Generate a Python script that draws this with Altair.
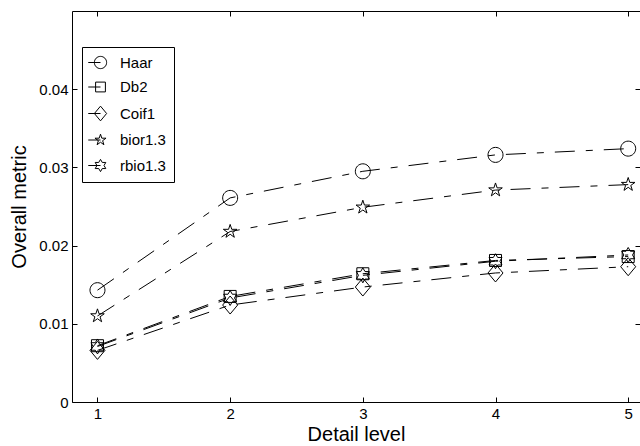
import math
import altair as alt
import pandas as pd

levels = [1, 2, 3, 4, 5]
series_names = ["Haar", "Db2", "Coif1", "bior1.3", "rbio1.3"]
haar = [0.0143, 0.0261, 0.0295, 0.0316, 0.0324]
db2 = [0.0072, 0.0135, 0.0164, 0.0181, 0.0186]
coif1 = [0.0066, 0.0124, 0.0147, 0.0165, 0.0173]
bior13 = [0.0110, 0.0218, 0.0249, 0.0271, 0.0278]
rbio13 = [0.0071, 0.0133, 0.0162, 0.0180, 0.0188]
y_ticks = [0, 0.01, 0.02, 0.03, 0.04]

rows = []
for name, vals in zip(series_names, [haar, db2, coif1, bior13, rbio13]):
    for lv, v in zip(levels, vals):
        rows.append({"series": name, "level": lv, "value": v})
df = pd.DataFrame(rows)


def star_path(n, R, r):
    pts = []
    for k in range(2 * n):
        ang = -math.pi / 2 + k * math.pi / n
        rad = R if k % 2 == 0 else r
        pts.append((rad * math.cos(ang), rad * math.sin(ang)))
    return "M" + "L".join(f"{x:.3f},{y:.3f}" for x, y in pts) + "Z"


circle_p = "M1,0A1,1 0 1,1 -1,0A1,1 0 1,1 1,0Z"
square_p = "M-0.8,-0.8L0.8,-0.8L0.8,0.8L-0.8,0.8Z"
diamond_p = "M0,-1.2L1,0L0,1.2L-1,0Z"
penta_p = star_path(5, 0.95, 0.95 * 0.382)
hexa_p = star_path(6, 1.0, 0.577)
marker_paths = [circle_p, square_p, diamond_p, penta_p, hexa_p]
legend_paths = ["M-2,0L0,0" + p for p in marker_paths]

FONT = "Liberation Sans"
xs = alt.Scale(domain=[0.808, 5.089], nice=False, zero=False)
ys = alt.Scale(domain=[0, 0.05], nice=False)

common_axis = dict(grid=False, domain=False, tickSize=5, offset=-5,
                   tickColor="black", tickWidth=1)

lines = alt.Chart(df).mark_line(
    color="black", strokeWidth=1, strokeDash=[20, 11, 7, 11]
).encode(
    x=alt.X("level:Q", scale=xs, axis=alt.Axis(
        orient="bottom", values=levels, format="d", title="Detail level",
        labelFont=FONT, labelFontSize=15, labelColor="black", labelPadding=4,
        titleFont=FONT, titleFontSize=20, titleFontWeight="normal",
        titleColor="black", titlePadding=3, **common_axis)),
    y=alt.Y("value:Q", scale=ys, axis=alt.Axis(
        orient="left", values=y_ticks, format=".2~f", title="Overall metric",
        labelFont=FONT, labelFontSize=15, labelColor="black", labelPadding=4,
        titleFont=FONT, titleFontSize=20, titleFontWeight="normal",
        titleColor="black", titlePadding=9, **common_axis)),
    detail="series:N",
)

markers = alt.Chart(df).mark_point(
    filled=False, color="black", strokeWidth=1, size=225, opacity=1
).encode(
    x=alt.X("level:Q", scale=xs, axis=alt.Axis(
        orient="top", values=levels, labels=False, title=None, **common_axis)),
    y=alt.Y("value:Q", scale=ys, axis=alt.Axis(
        orient="right", values=y_ticks, labels=False, title=None, **common_axis)),
    shape=alt.Shape("series:N", sort=series_names,
                    scale=alt.Scale(domain=series_names, range=marker_paths),
                    legend=None),
)

legend_layer = alt.Chart(df).transform_filter("false").mark_point(
    filled=False, color="black", strokeWidth=1, size=150, opacity=1
).encode(
    x=alt.X("level:Q", scale=xs, axis=None),
    y=alt.Y("value:Q", scale=ys, axis=None),
    shape=alt.Shape("series:N", sort=series_names,
                    scale=alt.Scale(domain=series_names, range=legend_paths),
                    legend=alt.Legend(
                        title=None, orient="none", legendX=10, legendY=36,
                        labelFont=FONT, labelFontSize=15, labelColor="black",
                        labelOffset=12, symbolOffset=3, symbolSize=150,
                        symbolStrokeColor="black", symbolStrokeWidth=1,
                        symbolFillColor="transparent",
                        rowPadding=8.5, padding=8, strokeColor="black",
                        fillColor="white", cornerRadius=0)),
)

chart = alt.layer(lines, markers, legend_layer).resolve_scale(
    shape="independent"
).resolve_axis(
    x="independent", y="independent"
).properties(
    width=568, height=391,
    padding={"left": 72, "top": 11, "right": 0, "bottom": 44},
    autosize=alt.AutoSizeParams(type="none"),
    background="white",
).configure_view(
    stroke="black", strokeWidth=1
)

chart.save("out.html", embed_options={"renderer": "svg", "actions": False})
